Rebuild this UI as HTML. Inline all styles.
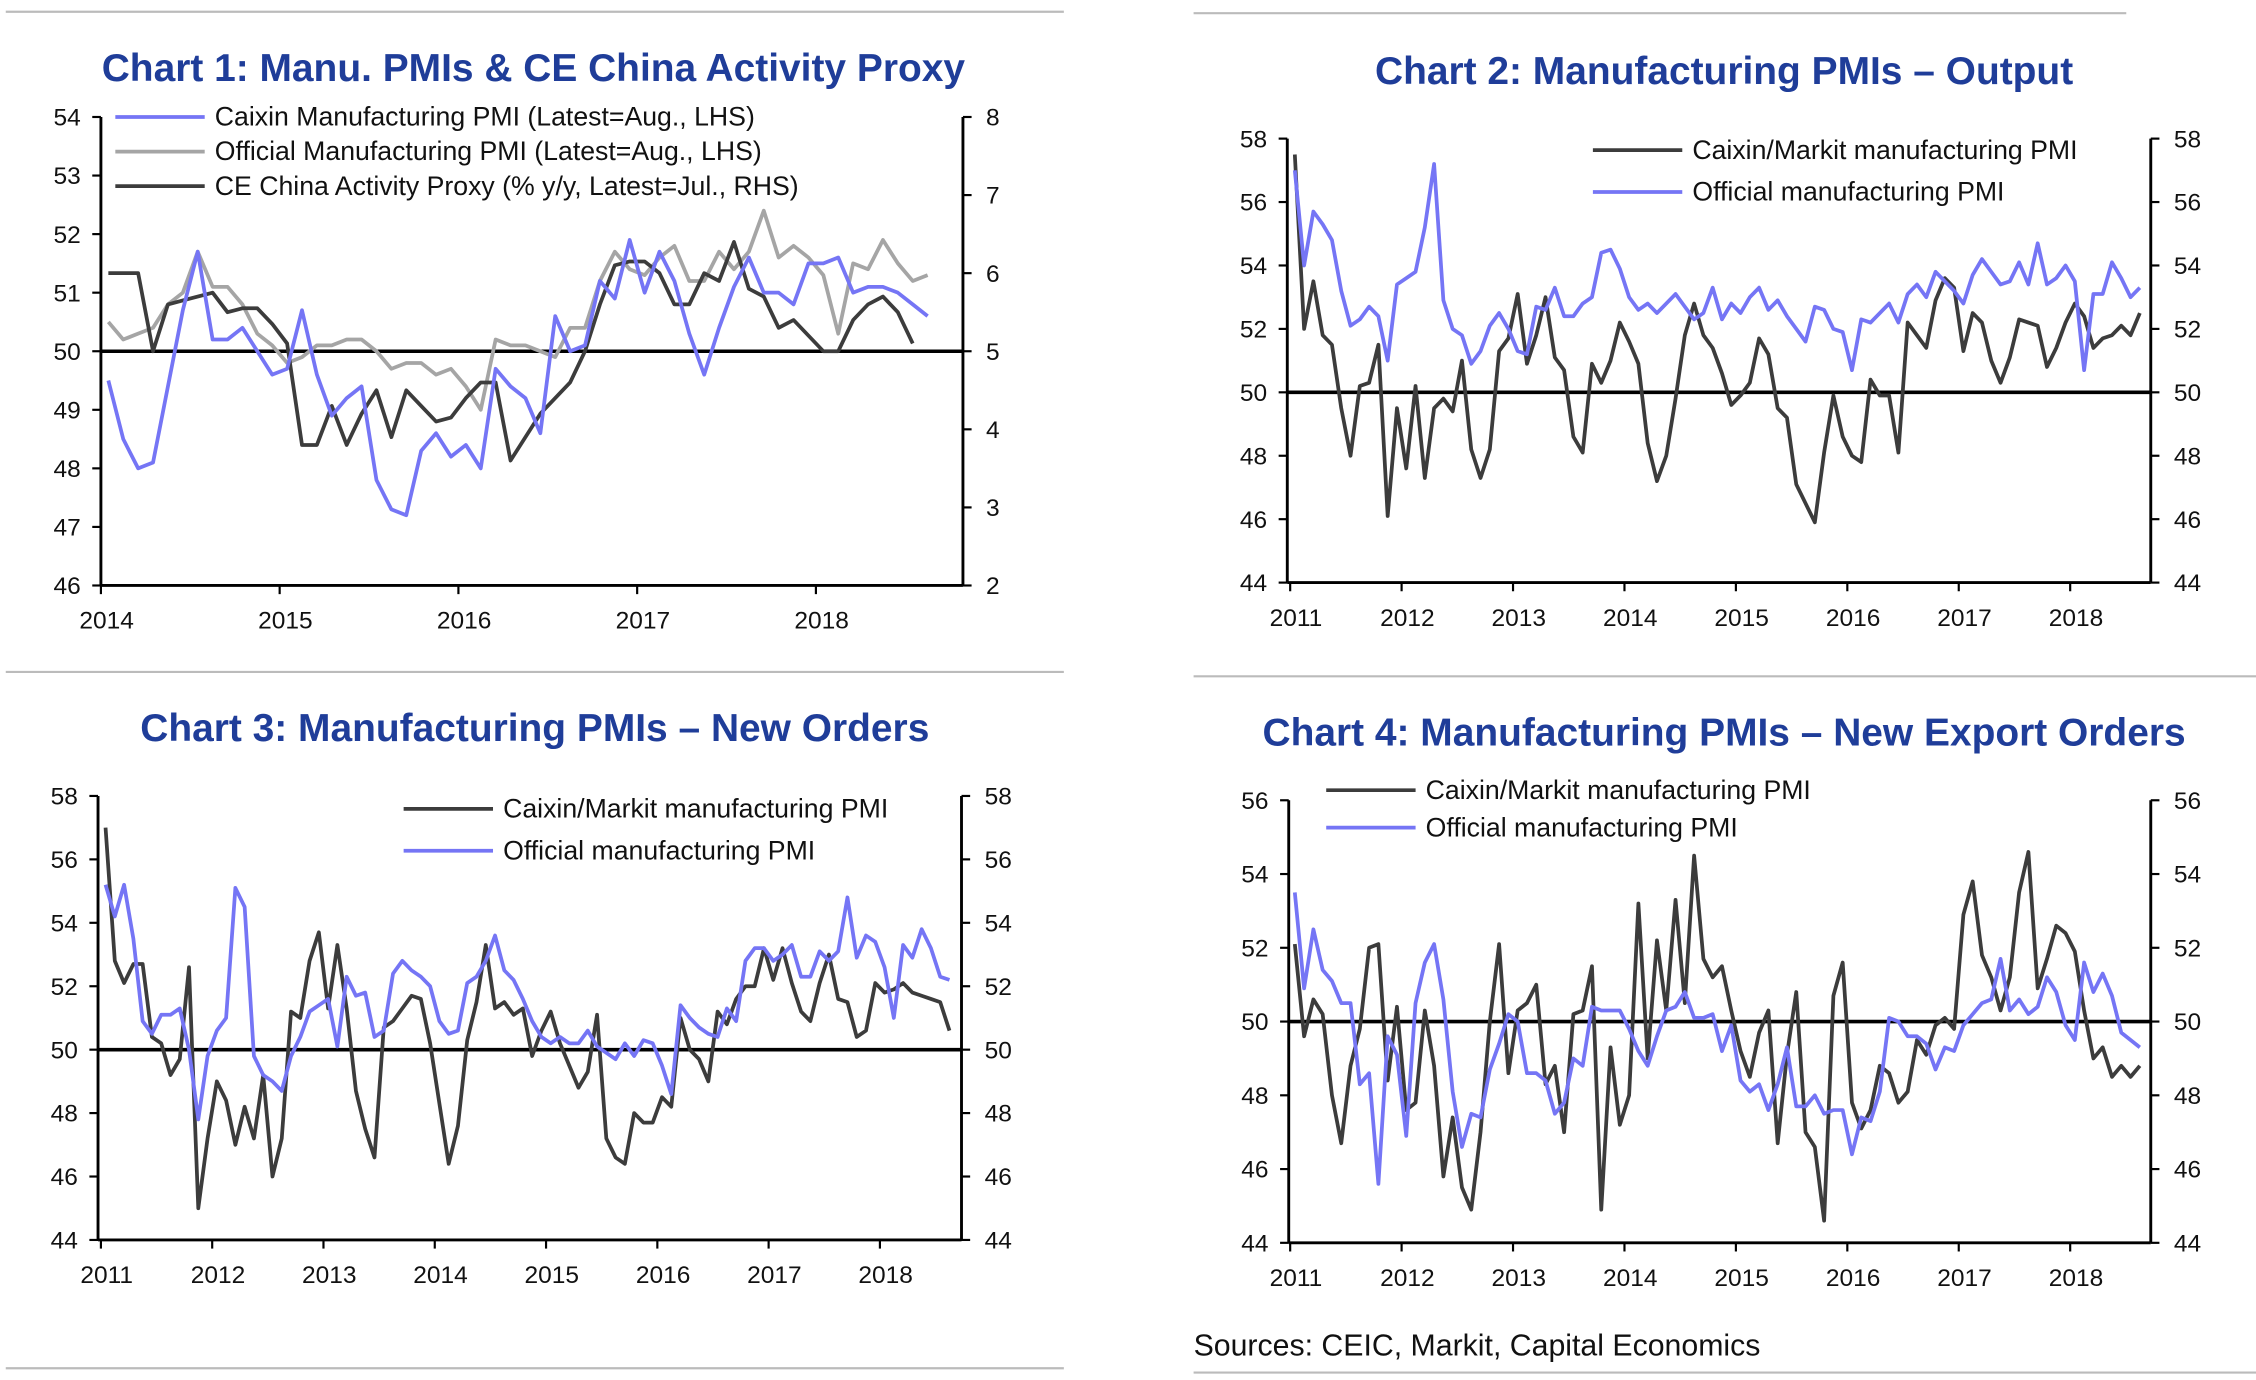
<!DOCTYPE html>
<html><head><meta charset="utf-8">
<style>
html,body{margin:0;padding:0;background:#fff;}
svg{display:block;font-family:"Liberation Sans",sans-serif;}
.t{font-weight:bold;fill:#1f3d99;font-size:27px;}
.lab{font-size:17px;fill:#111;}
.leg{font-size:18.5px;fill:#111;}
</style></head>
<body>
<svg id="root" width="2256" height="1380" viewBox="0 0 1565 957" xmlns="http://www.w3.org/2000/svg">
<line x1="4" y1="8" x2="738" y2="8" stroke="#bbb" stroke-width="1.5"/>
<line x1="828" y1="9" x2="1475" y2="9" stroke="#bbb" stroke-width="1.5"/>
<line x1="4" y1="466" x2="738" y2="466" stroke="#bbb" stroke-width="1.5"/>
<line x1="828" y1="469" x2="1565" y2="469" stroke="#bbb" stroke-width="1.5"/>
<line x1="4" y1="949" x2="738" y2="949" stroke="#bbb" stroke-width="1.5"/>
<line x1="828" y1="952" x2="1565" y2="952" stroke="#bbb" stroke-width="1.5"/>
<text class="t" x="370" y="56" text-anchor="middle">Chart 1: Manu. PMIs &amp; CE China Activity Proxy</text>
<text class="t" x="1196" y="58" text-anchor="middle">Chart 2: Manufacturing PMIs – Output</text>
<text class="t" x="371" y="514" text-anchor="middle">Chart 3: Manufacturing PMIs – New Orders</text>
<text class="t" x="1196" y="517" text-anchor="middle">Chart 4: Manufacturing PMIs – New Export Orders</text>
<text x="828" y="940" font-size="21" fill="#111">Sources: CEIC, Markit, Capital Economics</text>
</svg>
<script>
// ---- Chart 1 data (monthly from Jan 2014) ----
const c1Caixin=[49.5,48.5,48.0,48.1,49.4,50.7,51.7,50.2,50.2,50.4,50.0,49.6,49.7,50.7,49.6,48.9,49.2,49.4,47.8,47.3,47.2,48.3,48.6,48.2,48.4,48.0,49.7,49.4,49.2,48.6,50.6,50.0,50.1,51.2,50.9,51.9,51.0,51.7,51.2,50.3,49.6,50.4,51.1,51.6,51.0,51.0,50.8,51.5,51.5,51.6,51.0,51.1,51.1,51.0,50.8,50.6];
const c1Official=[50.5,50.2,50.3,50.4,50.8,51.0,51.7,51.1,51.1,50.8,50.3,50.1,49.8,49.9,50.1,50.1,50.2,50.2,50.0,49.7,49.8,49.8,49.6,49.7,49.4,49.0,50.2,50.1,50.1,50.0,49.9,50.4,50.4,51.2,51.7,51.4,51.3,51.6,51.8,51.2,51.2,51.7,51.4,51.7,52.4,51.6,51.8,51.6,51.3,50.3,51.5,51.4,51.9,51.5,51.2,51.3];
const c1Proxy=[6.0,6.0,6.0,5.0,5.6,5.65,5.7,5.75,5.5,5.55,5.55,5.35,5.1,3.8,3.8,4.3,3.8,4.2,4.5,3.9,4.5,4.3,4.1,4.15,4.4,4.6,4.6,3.6,3.9,4.2,4.4,4.6,5.0,5.6,6.1,6.15,6.15,6.0,5.6,5.6,6.0,5.9,6.4,5.8,5.7,5.3,5.4,5.2,5.0,5.0,5.4,5.6,5.7,5.5,5.1];
const c1YearLabels=["2014","2015","2016","2017","2018"];
const c1LeftTicks=[46,47,48,49,50,51,52,53,54];
const c1RightTicks=[2,3,4,5,6,7,8];
// ---- Chart 2 (monthly from Jan 2011) ----
const c2Caixin=[57.5,52,53.5,51.8,51.5,49.5,48,50.2,50.3,51.5,46.1,49.5,47.6,50.2,47.3,49.5,49.8,49.4,51,48.2,47.3,48.2,51.3,51.7,53.1,50.9,51.8,53,51.1,50.7,48.6,48.1,50.9,50.3,51,52.2,51.6,50.9,48.4,47.2,48,49.8,51.8,52.8,51.8,51.4,50.6,49.6,49.9,50.3,51.7,51.2,49.5,49.2,47.1,46.5,45.9,48.1,49.9,48.6,48,47.8,50.4,49.9,49.9,48.1,52.2,51.8,51.4,52.9,53.6,53.3,51.3,52.5,52.2,51,50.3,51.1,52.3,52.2,52.1,50.8,51.4,52.2,52.8,52.4,51.4,51.7,51.8,52.1,51.8,52.5];
const c2Official=[57,54,55.7,55.3,54.8,53.2,52.1,52.3,52.7,52.4,51,53.4,53.6,53.8,55.2,57.2,52.9,52,51.8,50.9,51.3,52.1,52.5,52,51.3,51.2,52.7,52.6,53.3,52.4,52.4,52.8,53,54.4,54.5,53.9,53,52.6,52.8,52.5,52.8,53.1,52.7,52.3,52.5,53.3,52.3,52.8,52.5,53,53.3,52.6,52.9,52.4,52,51.6,52.7,52.6,52,51.9,50.7,52.3,52.2,52.5,52.8,52.2,53.1,53.4,53,53.8,53.5,53.2,52.8,53.7,54.2,53.8,53.4,53.5,54.1,53.4,54.7,53.4,53.6,54.0,53.5,50.7,53.1,53.1,54.1,53.6,53,53.3];
// ---- Chart 3 ----
const c3Caixin=[57,52.8,52.1,52.7,52.7,50.4,50.2,49.2,49.7,52.6,45,47.2,49,48.4,47,48.2,47.2,49.2,46,47.2,51.2,51,52.8,53.7,51.3,53.3,51.3,48.7,47.5,46.6,50.7,50.9,51.3,51.7,51.6,50.2,48.3,46.4,47.6,50.3,51.5,53.3,51.3,51.5,51.1,51.3,49.8,50.6,51.2,50.2,49.5,48.8,49.3,51.1,47.2,46.6,46.4,48,47.7,47.7,48.5,48.2,51,50,49.7,49,51.2,50.8,51.6,52,52,53.2,52.2,53.2,52.1,51.2,50.9,52.1,53,51.6,51.5,50.4,50.6,52.1,51.8,51.9,52.1,51.8,51.7,51.6,51.5,50.6];
const c3Official=[55.2,54.2,55.2,53.5,50.9,50.5,51.1,51.1,51.3,50,47.8,49.8,50.6,51,55.1,54.5,49.8,49.2,49,48.7,49.8,50.4,51.2,51.4,51.6,50.1,52.3,51.7,51.8,50.4,50.6,52.4,52.8,52.5,52.3,52.0,50.9,50.5,50.6,52.1,52.3,52.8,53.6,52.5,52.2,51.6,50.9,50.4,50.2,50.4,50.2,50.2,50.6,50.1,49.9,49.7,50.2,49.8,50.3,50.2,49.5,48.6,51.4,51,50.7,50.5,50.4,51.3,50.9,52.8,53.2,53.2,52.8,53,53.3,52.3,52.3,53.1,52.8,53.1,54.8,52.9,53.6,53.4,52.6,51.0,53.3,52.9,53.8,53.2,52.3,52.2];
// ---- Chart 4 ----
const c4Caixin=[52.1,49.6,50.6,50.2,48,46.7,48.8,49.8,52,52.1,48.4,50.4,47.6,47.8,50.3,48.8,45.8,47.4,45.5,44.9,47,50,52.1,48.6,50.3,50.5,51,48.3,48.8,47,50.2,50.3,51.5,44.9,49.3,47.2,48,53.2,49,52.2,50.3,53.3,50.5,54.5,51.7,51.2,51.5,50.3,49.2,48.5,49.7,50.3,46.7,49.1,50.8,47,46.6,44.6,50.7,51.6,47.8,47.1,47.6,48.8,48.6,47.8,48.1,49.5,49.1,49.9,50.1,49.8,52.9,53.8,51.8,51.2,50.3,51.2,53.5,54.6,50.9,51.7,52.6,52.4,51.9,50.3,49,49.3,48.5,48.8,48.5,48.8];
const c4Official=[53.5,50.9,52.5,51.4,51.1,50.5,50.5,48.3,48.6,45.6,49.6,49.1,46.9,50.5,51.6,52.1,50.6,48.1,46.6,47.5,47.4,48.7,49.4,50.2,50,48.6,48.6,48.4,47.5,47.8,49,48.8,50.4,50.3,50.3,50.3,49.8,49.2,48.8,49.6,50.3,50.4,50.8,50.1,50.1,50.2,49.2,49.9,48.4,48.1,48.3,47.6,48.3,49.3,47.7,47.7,48,47.5,47.6,47.6,46.4,47.4,47.3,48.1,50.1,50,49.6,49.6,49.4,48.7,49.3,49.2,49.9,50.2,50.5,50.6,51.7,50.3,50.6,50.2,50.4,51.2,50.8,49.9,49.5,51.6,50.8,51.3,50.7,49.7,49.5,49.3];
const pmiYearLabels=["2011","2012","2013","2014","2015","2016","2017","2018"];
const pmiTicks58=[44,46,48,50,52,54,56,58];
const pmiTicks56=[44,46,48,50,52,54,56];

const NS="http://www.w3.org/2000/svg";
const root=document.getElementById('root');
const BLUE="#7575f5",DARK="#3c3c3c",GREY="#a5a5a5";
function mk(tag,attrs,parent){const e=document.createElementNS(NS,tag);for(const k in attrs)e.setAttribute(k,attrs[k]);(parent||root).appendChild(e);return e;}

function chart(cfg){
  const g=mk('g',{});
  
  
  const {x0,x1,y0,y1,xStart,yearW,lmin,lmax}=cfg;
  const yL=v=>y1-(v-lmin)/(lmax-lmin)*(y1-y0);
  const xM=i=>xStart+(i+0.5)*yearW/12;
  const la=mk('line',{x1:x0,y1:y0,x2:x0,y2:y1,stroke:'#000','stroke-width':2},g);
  
  
  const ra=mk('line',{x1:x1,y1:y0,x2:x1,y2:y1,stroke:'#000','stroke-width':2},g);
  
  
  const xa=mk('line',{x1:x0,y1:y1,x2:x1,y2:y1,stroke:'#000','stroke-width':2},g);
  
  
  const ref=mk('line',{x1:x0,y1:yL(50),x2:x1,y2:yL(50),stroke:'#000','stroke-width':2.5},g);
  
  
  cfg.leftTicks.forEach(v=>{
    mk('line',{x1:x0-6,y1:yL(v),x2:x0,y2:yL(v),stroke:'#000','stroke-width':1.5},g);
    const t=mk('text',{x:x0-14,y:yL(v)+6,'text-anchor':'end',class:'lab'},g);t.textContent=v;
    
    
  });
  const rmin=cfg.rmin,rmax=cfg.rmax;
  const yR=v=>y1-(v-rmin)/(rmax-rmin)*(y1-y0);
  cfg.rightTicks.forEach(v=>{
    mk('line',{x1:x1,y1:yR(v),x2:x1+6,y2:yR(v),stroke:'#000','stroke-width':1.5},g);
    const t=mk('text',{x:x1+16,y:yR(v)+6,class:'lab'},g);t.textContent=v;
    
    
  });
  cfg.years.forEach((lab,i)=>{
    const xx=xStart+i*yearW;
    mk('line',{x1:xx,y1:y1,x2:xx,y2:y1+6,stroke:'#000','stroke-width':1.5},g);
    const t=mk('text',{x:xx+4,y:y1+30,'text-anchor':'middle',class:'lab'},g);t.textContent=lab;
    
    
  });
  cfg.series.forEach(s=>{
    const yf=s.right?yR:yL;
    const p=mk('polyline',{points:s.data.map((v,i)=>xM(i)+','+yf(v)).join(' '),fill:'none',stroke:s.color,'stroke-width':2.6,'stroke-linejoin':'round'},g);
    
    
  });
  cfg.legend.forEach(l=>{
    mk('line',{x1:l.x,y1:l.y,x2:l.x+62,y2:l.y,stroke:l.color,'stroke-width':2.6},g);
    const t=mk('text',{x:l.x+69,y:l.y+6,class:'leg'},g);t.textContent=l.text;
    
    
  });
}

chart({name:'chart1',x0:70,x1:668,y0:81,y1:406,xStart:70,yearW:124,lmin:46,lmax:54,rmin:2,rmax:8,
  leftTicks:c1LeftTicks,rightTicks:c1RightTicks,years:c1YearLabels,
  series:[{data:c1Official,color:GREY,name:'official-pmi-line'},{data:c1Proxy,color:DARK,right:true,name:'activity-proxy-line'},{data:c1Caixin,color:BLUE,name:'caixin-pmi-line'}],
  legend:[{x:80,y:81,color:BLUE,text:'Caixin Manufacturing PMI (Latest=Aug., LHS)'},{x:80,y:105,color:GREY,text:'Official Manufacturing PMI (Latest=Aug., LHS)'},{x:80,y:129,color:DARK,text:'CE China Activity Proxy (% y/y, Latest=Jul., RHS)'}]});
chart({name:'chart2',x0:893,x1:1492,y0:96,y1:404,xStart:895,yearW:77.3,lmin:44,lmax:58,rmin:44,rmax:58,
  leftTicks:pmiTicks58,rightTicks:pmiTicks58,years:pmiYearLabels,
  series:[{data:c2Caixin,color:DARK,name:'caixin-output-line'},{data:c2Official,color:BLUE,name:'official-output-line'}],
  legend:[{x:1105,y:104,color:DARK,text:'Caixin/Markit manufacturing PMI'},{x:1105,y:133,color:BLUE,text:'Official manufacturing PMI'}]});
chart({name:'chart3',x0:68,x1:667,y0:552,y1:860,xStart:70,yearW:77.2,lmin:44,lmax:58,rmin:44,rmax:58,
  leftTicks:pmiTicks58,rightTicks:pmiTicks58,years:pmiYearLabels,
  series:[{data:c3Caixin,color:DARK,name:'caixin-orders-line'},{data:c3Official,color:BLUE,name:'official-orders-line'}],
  legend:[{x:280,y:561,color:DARK,text:'Caixin/Markit manufacturing PMI'},{x:280,y:590,color:BLUE,text:'Official manufacturing PMI'}]});
chart({name:'chart4',x0:894,x1:1492,y0:555,y1:862,xStart:895,yearW:77.3,lmin:44,lmax:56,rmin:44,rmax:56,
  leftTicks:pmiTicks56,rightTicks:pmiTicks56,years:pmiYearLabels,
  series:[{data:c4Caixin,color:DARK,name:'caixin-export-line'},{data:c4Official,color:BLUE,name:'official-export-line'}],
  legend:[{x:920,y:548,color:DARK,text:'Caixin/Markit manufacturing PMI'},{x:920,y:574,color:BLUE,text:'Official manufacturing PMI'}]});
</script>
</body></html>
